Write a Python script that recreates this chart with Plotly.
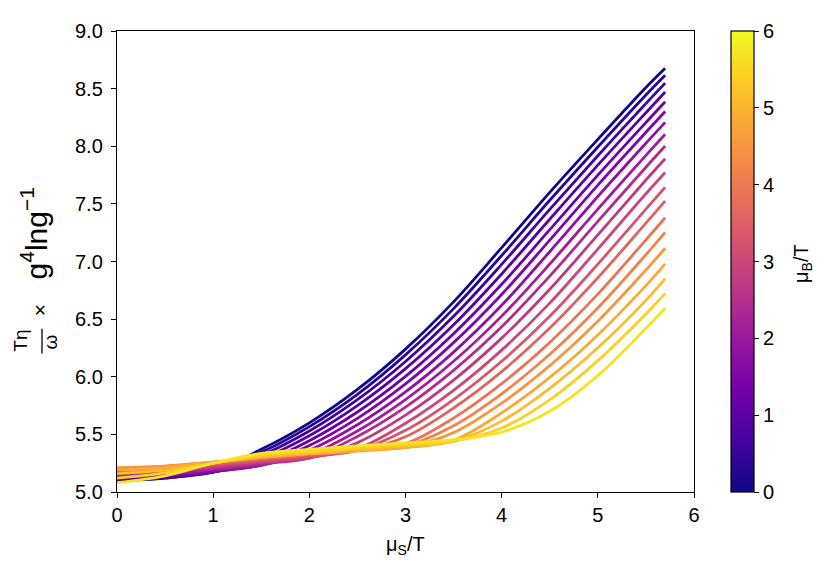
import plotly.graph_objects as go
from plotly.colors import sample_colorscale

# mu_S / T grid (x axis)
MU_S = [0.0, 0.5, 1.0, 1.5, 2.0, 2.5, 3.0, 3.5, 4.0, 4.5, 5.0, 5.5, 5.7]

# mu_B / T of each curve (colour)
MU_B = [0.0, 0.3, 0.6, 0.9, 1.2, 1.5, 1.8, 2.1, 2.4, 2.7,
        3.0, 3.3, 3.6, 3.9, 4.2, 4.5, 4.8, 5.1, 5.4, 5.7]

# T eta / w * g^4 ln(1/g), one list per mu_B value
mb_0_0 = [5.100, 5.120, 5.190, 5.370, 5.600, 5.890, 6.240, 6.650, 7.120, 7.600, 8.060, 8.510, 8.676]
mb_0_3 = [5.102, 5.122, 5.182, 5.344, 5.567, 5.848, 6.190, 6.591, 7.052, 7.531, 7.994, 8.445, 8.616]
mb_0_6 = [5.106, 5.124, 5.172, 5.317, 5.529, 5.801, 6.132, 6.524, 6.975, 7.452, 7.918, 8.371, 8.548]
mb_0_9 = [5.112, 5.128, 5.172, 5.287, 5.488, 5.749, 6.070, 6.451, 6.892, 7.367, 7.836, 8.291, 8.471]
mb_1_2 = [5.120, 5.135, 5.174, 5.258, 5.445, 5.694, 6.003, 6.373, 6.802, 7.276, 7.749, 8.206, 8.386]
mb_1_5 = [5.128, 5.143, 5.178, 5.235, 5.403, 5.639, 5.938, 6.296, 6.714, 7.185, 7.663, 8.121, 8.301]
mb_1_8 = [5.137, 5.152, 5.187, 5.230, 5.362, 5.583, 5.869, 6.214, 6.620, 7.085, 7.564, 8.026, 8.207]
mb_2_1 = [5.146, 5.161, 5.196, 5.236, 5.325, 5.530, 5.802, 6.134, 6.526, 6.978, 7.455, 7.921, 8.104]
mb_2_4 = [5.156, 5.171, 5.206, 5.246, 5.295, 5.482, 5.737, 6.056, 6.434, 6.873, 7.348, 7.818, 8.002]
mb_2_7 = [5.166, 5.181, 5.216, 5.256, 5.293, 5.428, 5.667, 5.971, 6.335, 6.759, 7.231, 7.707, 7.891]
mb_3_0 = [5.176, 5.191, 5.226, 5.266, 5.301, 5.375, 5.596, 5.882, 6.231, 6.639, 7.108, 7.588, 7.772]
mb_3_3 = [5.186, 5.201, 5.236, 5.276, 5.311, 5.360, 5.535, 5.802, 6.134, 6.525, 6.977, 7.454, 7.644]
mb_3_6 = [5.195, 5.210, 5.245, 5.285, 5.320, 5.358, 5.480, 5.729, 6.045, 6.422, 6.859, 7.333, 7.525]
mb_3_9 = [5.203, 5.218, 5.253, 5.293, 5.328, 5.363, 5.420, 5.641, 5.940, 6.298, 6.717, 7.188, 7.380]
mb_4_2 = [5.209, 5.224, 5.259, 5.299, 5.334, 5.369, 5.400, 5.575, 5.852, 6.195, 6.597, 7.059, 7.252]
mb_4_5 = [5.210, 5.225, 5.260, 5.300, 5.335, 5.365, 5.390, 5.515, 5.771, 6.097, 6.482, 6.927, 7.115]
mb_4_8 = [5.190, 5.210, 5.255, 5.300, 5.330, 5.355, 5.385, 5.450, 5.687, 5.995, 6.363, 6.791, 6.979]
mb_5_1 = [5.160, 5.190, 5.250, 5.310, 5.340, 5.365, 5.395, 5.440, 5.615, 5.900, 6.251, 6.663, 6.851]
mb_5_4 = [5.120, 5.165, 5.250, 5.320, 5.350, 5.380, 5.410, 5.440, 5.555, 5.800, 6.140, 6.545, 6.723]
mb_5_7 = [5.080, 5.140, 5.250, 5.335, 5.370, 5.400, 5.425, 5.455, 5.520, 5.700, 6.010, 6.420, 6.595]

CURVES = [mb_0_0, mb_0_3, mb_0_6, mb_0_9, mb_1_2, mb_1_5, mb_1_8, mb_2_1, mb_2_4, mb_2_7,
          mb_3_0, mb_3_3, mb_3_6, mb_3_9, mb_4_2, mb_4_5, mb_4_8, mb_5_1, mb_5_4, mb_5_7]

CBAR_TICKS = [0, 1, 2, 3, 4, 5, 6]

FONT = 'Liberation Sans, Arial, sans-serif'

# the page body adds an 8px margin, so lay the figure out 8px up/left
OFF = 8
FIG_W, FIG_H = 831 - OFF, 577 - OFF
# plot area in (page) pixels
L, T, W, H = 117, 23, 577, 469


def px_x(px):
    return (px - L) / W


def px_y(py):
    return (T + H - py) / H


colors = sample_colorscale('Plasma', [mb / 6.0 for mb in MU_B])

fig = go.Figure()
for mb, vals, col in zip(MU_B, CURVES, colors):
    fig.add_trace(go.Scatter(x=MU_S, y=vals, mode='lines',
                             line=dict(color=col, width=2.8, shape='spline'),
                             name='%.1f' % mb, showlegend=False))

# dummy trace only for the colour bar
fig.add_trace(go.Scatter(
    x=[None], y=[None], mode='markers', showlegend=False, hoverinfo='skip',
    marker=dict(colorscale='Plasma', cmin=0, cmax=6, color=[0], showscale=True,
                colorbar=dict(x=px_x(731), xanchor='left', xpad=0,
                              y=0.5, yanchor='middle', ypad=0,
                              len=1, lenmode='fraction', thickness=23,
                              outlinewidth=1.2, outlinecolor='black',
                              ticks='outside', ticklen=5, tickcolor='black',
                              tickvals=CBAR_TICKS,
                              tickfont=dict(family=FONT, size=20, color='black'))),
))

axis_style = dict(showgrid=False, zeroline=False, showline=True, linecolor='black',
                  linewidth=1.4, mirror=True, ticks='outside', ticklen=5,
                  tickcolor='black', tickwidth=1.2,
                  tickfont=dict(family=FONT, size=20, color='black'))

fig.update_xaxes(range=[0, 6], tickvals=[0, 1, 2, 3, 4, 5, 6], **axis_style)
fig.update_yaxes(range=[5, 9], tickvals=[5.0, 5.5, 6.0, 6.5, 7.0, 7.5, 8.0, 8.5, 9.0],
                 tickformat='.1f', ticklabelstandoff=4, **axis_style)

ann = dict(xref='paper', yref='paper', showarrow=False,
           xanchor='center', yanchor='middle')
fig.update_layout(
    width=FIG_W, height=FIG_H, autosize=False,
    margin=dict(l=L - OFF, r=FIG_W - (L - OFF) - W, t=T - OFF, b=FIG_H - (T - OFF) - H),
    paper_bgcolor='white', plot_bgcolor='white',
    annotations=[
        # x axis title
        dict(x=px_x(405), y=px_y(546), text='μ<sub>S</sub>/T',
             font=dict(family=FONT, size=20, color='black'), **ann),
        # colour bar title
        dict(x=px_x(803), y=px_y(260), text='μ<sub>B</sub>/T', textangle=-90,
             font=dict(family=FONT, size=20, color='black'), **ann),
        # y axis title: fraction T eta / omega, then x g^4 ln g^-1
        dict(x=px_x(21), y=px_y(338), text='Tη', textangle=-90,
             font=dict(family=FONT, size=19, color='black'), **ann),
        dict(x=px_x(51), y=px_y(340), text='ω', textangle=-90,
             font=dict(family=FONT, size=19, color='black'), **ann),
        dict(x=px_x(39), y=px_y(307), text='×', textangle=-90,
             font=dict(family=FONT, size=21, color='black'), **ann),
        dict(x=px_x(35), y=px_y(229), text='g<sup>4</sup>lng<sup>−1</sup>', textangle=-90,
             font=dict(family=FONT, size=30, color='black'), **ann),
    ],
    shapes=[
        dict(type='line', xref='paper', yref='paper',
             x0=px_x(42), x1=px_x(42), y0=px_y(326), y1=px_y(351),
             line=dict(color='black', width=1.3)),
    ],
)

fig.write_html('out.html')
